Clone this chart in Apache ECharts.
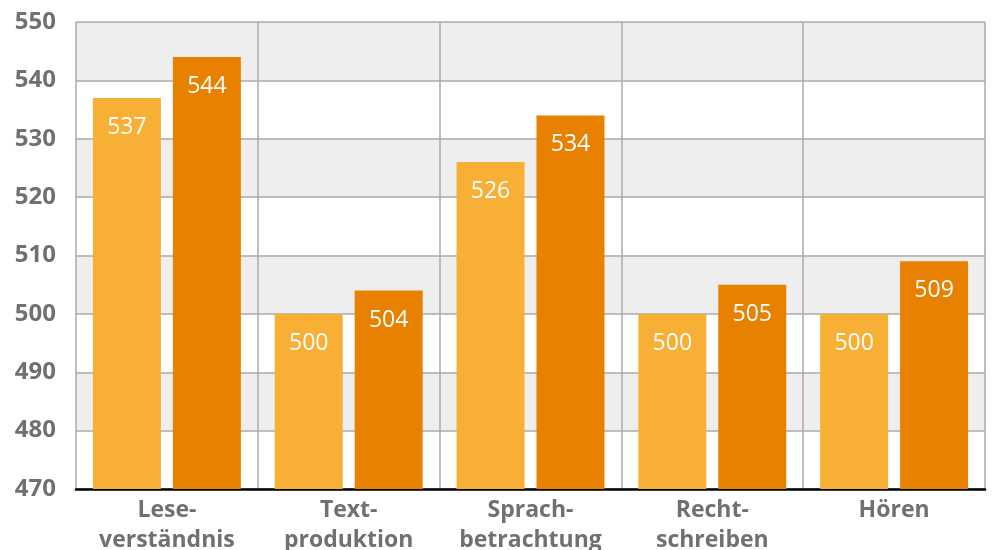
<!DOCTYPE html>
<html><head><meta charset="utf-8">
<script src="https://cdn.jsdelivr.net/npm/echarts@6/dist/echarts.min.js"></script>
<style>html,body{margin:0;padding:0;background:#fff}#c{width:992px;height:550px}</style>
</head><body><div id="c"></div>
<script>
const categories = ['Lese-\nverständnis', 'Text-\nproduktion', 'Sprach-\nbetrachtung', 'Recht-\nschreiben', 'Hören'];
const seriesA = [537, 500, 526, 500, 500];
const seriesB = [544, 504, 534, 505, 509];
const yMin = 470, yMax = 550, yStep = 10;

const chart = echarts.init(document.getElementById('c'));
const labelCfg = {show: true, position: 'insideTop', distance: 18, color: '#fff', fontSize: 23, fontFamily: 'Open Sans'};
chart.setOption({
  animation: false,
  grid: {left: 76, right: 7, top: 22, bottom: 61, containLabel: false, outerBoundsMode: 'none'},
  xAxis: {
    type: 'category', data: categories,
    axisLine: {show: true, lineStyle: {color: '#000', width: 2.5}},
    axisTick: {show: false, interval: 0},
    axisLabel: {interval: 0, hideOverlap: false, color: '#707070', fontSize: 23, fontWeight: 'bold', fontFamily: 'Open Sans', lineHeight: 30, margin: 6},
    splitLine: {show: true, interval: 0, showMinLine: true, showMaxLine: true, lineStyle: {color: '#aaaaaa', width: 1.5}}
  },
  yAxis: {
    type: 'value', min: yMin, max: yMax, interval: yStep,
    axisLine: {show: false}, axisTick: {show: false},
    axisLabel: {color: '#707070', fontSize: 24, fontWeight: 'bold', fontFamily: 'Open Sans', margin: 20},
    splitLine: {show: true, lineStyle: {color: '#aaaaaa', width: 1.5}},
    splitArea: {show: true, areaStyle: {color: ['#ffffff', '#eeeeee']}}
  },
  series: [
    {type: 'bar', data: seriesA, barWidth: 68, barGap: '17.6%', itemStyle: {color: '#F7B035'}, label: labelCfg},
    {type: 'bar', data: seriesB, barWidth: 68, itemStyle: {color: '#E88100'}, label: labelCfg}
  ]
});
</script></body></html>
